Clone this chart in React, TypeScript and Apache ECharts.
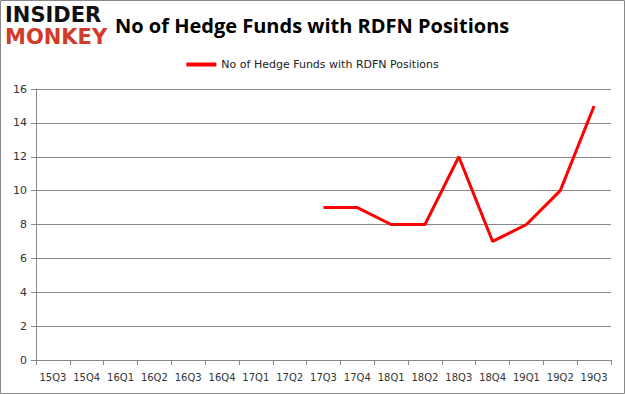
import React, { useEffect, useRef } from "react";
import * as echarts from "echarts";

const categories = ["15Q3","15Q4","16Q1","16Q2","16Q3","16Q4","17Q1","17Q2","17Q3","17Q4","18Q1","18Q2","18Q3","18Q4","19Q1","19Q2","19Q3"];
const fundCounts: (number | null)[] = [null,null,null,null,null,null,null,null,9,9,8,8,12,7,8,10,15];
const seriesName = "No of Hedge Funds with RDFN Positions";
const titleText = "No of Hedge Funds with RDFN Positions";

export default function App() {
  const ref = useRef<HTMLDivElement>(null);
  useEffect(() => {
    const chart = echarts.init(ref.current!, null, { renderer: "svg" });
    chart.setOption({
      animation: false,
      backgroundColor: "#fff",
      title: {
        text: titleText,
        left: 110,
        top: 10,
        textStyle: { fontFamily: "Open Sans", fontSize: 20, fontWeight: "bold", color: "#000" },
      },
      legend: {
        top: 54,
        left: "center",
        itemWidth: 30,
        itemHeight: 4,
        icon: "rect",
        textStyle: { fontFamily: "DejaVu Sans", fontSize: 11, color: "#222" },
        data: [seriesName],
      },
      grid: { left: 36, right: 14, top: 89, bottom: 34, containLabel: false },
      xAxis: {
        type: "category",
        data: categories,
        boundaryGap: true,
        axisLine: { lineStyle: { color: "#888" } },
        axisTick: { show: true, alignWithLabel: false, lineStyle: { color: "#888" } },
        axisLabel: { fontFamily: "DejaVu Sans", fontSize: 10, color: "#333", margin: 12, interval: 0 },
      },
      yAxis: {
        type: "value",
        min: 0,
        max: 16,
        interval: 2,
        axisLine: { show: true, lineStyle: { color: "#888" } },
        axisTick: { show: true, lineStyle: { color: "#888" } },
        splitLine: { lineStyle: { color: "#888" } },
        axisLabel: { fontFamily: "DejaVu Sans", fontSize: 11, color: "#333", margin: 9 },
      },
      series: [
        {
          name: seriesName,
          type: "line",
          data: fundCounts,
          symbol: "none",
          connectNulls: false,
          lineStyle: { color: "#ff0000", width: 3 },
          itemStyle: { color: "#ff0000" },
        },
      ],
      graphic: [
        { type: "rect", shape: { x: 0.5, y: 0.5, width: 624, height: 393 }, style: { fill: "none", stroke: "#888", lineWidth: 1 }, silent: true },
        { type: "text", left: 5, top: 4, style: { text: "INSIDER", fontFamily: "DejaVu Sans", fontWeight: "bold", fontSize: 21, fill: "#111" } },
        { type: "text", left: 5, top: 26, style: { text: "MONKEY", fontFamily: "DejaVu Sans", fontWeight: "bold", fontSize: 21, fill: "#d23a2a" } },
      ],
    });
    return () => chart.dispose();
  }, []);
  return <div ref={ref} style={{ position: "fixed", left: 0, top: 0, width: 625, height: 394 }} />;
}
